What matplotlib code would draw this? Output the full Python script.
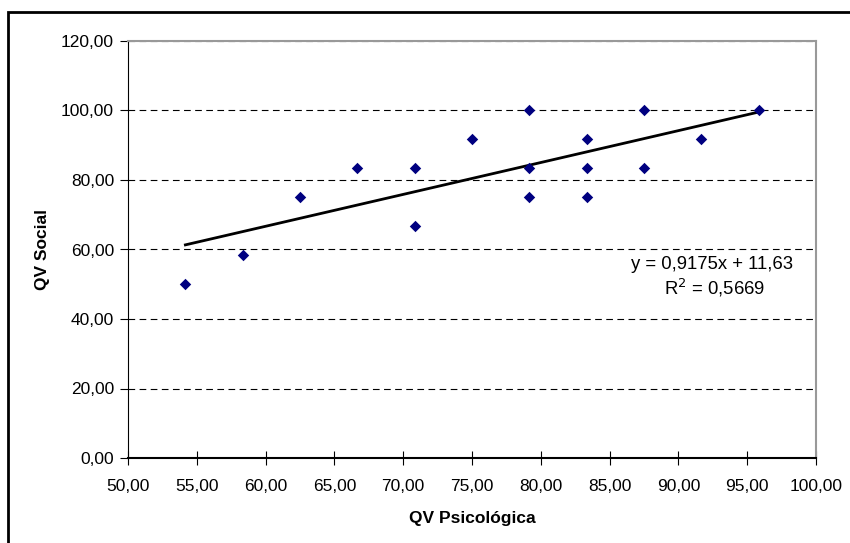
import matplotlib.pyplot as plt
import matplotlib.patches as mpatches
import numpy as np
from matplotlib.ticker import FuncFormatter, MultipleLocator

# QV Psicológica (x) and QV Social (y) scores
qv_psicologica = [54.17, 58.33, 62.50, 66.67, 70.83, 70.83, 75.00, 79.17, 79.17,
                  79.17, 83.33, 83.33, 83.33, 87.50, 87.50, 91.67, 95.83]
qv_social = [50.00, 58.33, 75.00, 83.33, 83.33, 66.67, 91.67, 100.00, 83.33,
             75.00, 91.67, 83.33, 75.00, 100.00, 83.33, 91.67, 100.00]

# linear trend
slope = 0.9175
intercept = 11.63
r2 = 0.5669


def main() -> None:
    plt.rcParams["font.family"] = ["Liberation Sans", "DejaVu Sans"]
    fig = plt.figure(figsize=(8.5, 5.43), dpi=100)
    fig.set_facecolor("white")

    # outer chart frame (runs past the right and bottom edges)
    frame = mpatches.Rectangle((8 / 850, -0.05), 1.2, 1 - 12 / 543 + 0.05,
                               transform=fig.transFigure, fill=False,
                               edgecolor="black", linewidth=2, zorder=0)
    fig.patches.append(frame)

    ax = fig.add_axes([128 / 850, 85 / 543, 688 / 850, 417 / 543])

    x = np.array(qv_psicologica)
    y = np.array(qv_social)
    ax.scatter(x, y, marker="D", s=34, color="#000080", zorder=3, linewidths=0)

    xt = np.array([x.min(), x.max()])
    ax.plot(xt, slope * xt + intercept, color="black", linewidth=2, zorder=2)

    eq = f"y = {slope:.4f}x + {intercept:.2f}".replace(".", ",")
    ax.text(0.849, 0.463, eq, transform=ax.transAxes,
            ha="center", va="center", fontsize=13.3)
    ax.text(0.853, 0.408, "R$^2$ = " + f"{r2:.4f}".replace(".", ","),
            transform=ax.transAxes, ha="center", va="center", fontsize=13.3)

    ax.set_xlim(50, 100)
    ax.set_ylim(0, 120)
    ax.xaxis.set_major_locator(MultipleLocator(5))
    ax.yaxis.set_major_locator(MultipleLocator(20))
    fmt = FuncFormatter(lambda v, p: f"{v:.2f}".replace(".", ","))
    ax.xaxis.set_major_formatter(fmt)
    ax.yaxis.set_major_formatter(fmt)

    ax.yaxis.grid(True, linestyle=(0, (6, 4)), color="black", linewidth=0.8)
    ax.set_axisbelow(True)

    ax.spines["left"].set_color("black")
    ax.spines["bottom"].set_color("black")
    ax.spines["bottom"].set_linewidth(1.5)
    ax.spines["top"].set_color("#999999")
    ax.spines["right"].set_color("#999999")
    ax.spines["top"].set_linewidth(1.5)
    ax.spines["right"].set_linewidth(1.5)

    ax.tick_params(axis="y", direction="out", length=6, labelsize=12.5, pad=4)
    ax.tick_params(axis="x", direction="inout", length=10, labelsize=12.5, pad=10)

    ax.set_xlabel("QV Psicológica", fontsize=12.5, fontweight="bold", labelpad=12)
    ax.set_ylabel("QV Social", fontsize=12.5, fontweight="bold", labelpad=8)

    fig.savefig("out.png", dpi=100)
    plt.close(fig)


if __name__ == "__main__":
    main()
